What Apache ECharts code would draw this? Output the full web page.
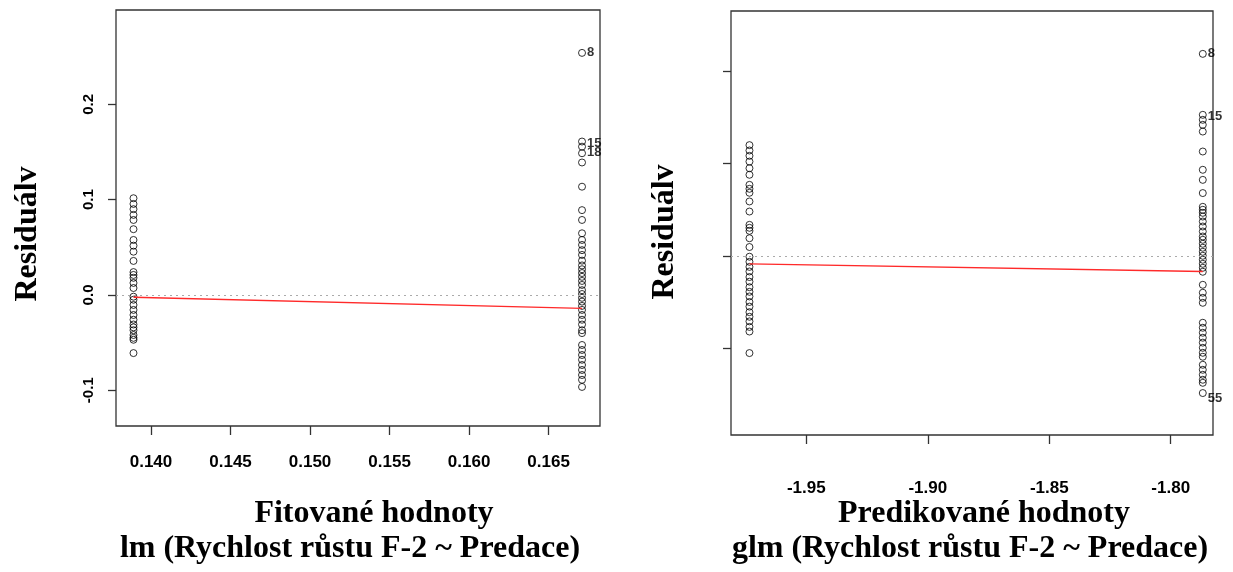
<!DOCTYPE html>
<html>
<head>
<meta charset="utf-8">
<script src="https://cdn.jsdelivr.net/npm/echarts@6/dist/echarts.min.js"></script>
<style>
  html, body { margin: 0; padding: 0; background: #fff; }
  #chart { width: 1233px; height: 572px; }
</style>
</head>
<body>
<div id="chart"></div>
<script>
// lm: fitted values of the two groups and their residuals
const lmFitted = [0.1389, 0.1671];
const lmResLeft = [0.1015, 0.0955, 0.090, 0.084, 0.0787, 0.069, 0.0577, 0.0517, 0.0454, 0.0357,
  0.024, 0.021, 0.018, 0.0126, 0.0073, -0.0018, -0.005, -0.0105, -0.0157, -0.021, -0.026,
  -0.031, -0.034, -0.037, -0.042, -0.045, -0.047, -0.061];
const lmResRight = [0.254, 0.161, 0.1556, 0.1487, 0.139, 0.1136, 0.089, 0.0787, 0.0647, 0.0577,
  0.0525, 0.047, 0.042, 0.036, 0.031, 0.027, 0.023, 0.019, 0.0147, 0.0105, 0.005, 0.001,
  -0.003, -0.007, -0.0115, -0.0157, -0.021, -0.026, -0.031, -0.037, -0.040, -0.0525, -0.0577,
  -0.063, -0.068, -0.0735, -0.0787, -0.084, -0.089, -0.0965];
const lmLabels = { 0: '8', 1: '15', 2: '18' };
const lmSmooth = [[0.1389, -0.0024], [0.1671, -0.014]];
const lmTicksX = [0.140, 0.145, 0.150, 0.155, 0.160, 0.165];
const lmTicksY = [-0.1, 0.0, 0.1, 0.2];

// glm: predicted values and residuals
const glmFitted = [-1.9734, -1.7868];
const glmResLeft = [1.198, 1.14, 1.082, 1.02, 0.948, 0.877, 0.768, 0.725, 0.682, 0.588, 0.479,
  0.335, 0.303, 0.27, 0.19, 0.095, -0.01, -0.065, -0.12, -0.17, -0.23, -0.28, -0.34, -0.39,
  -0.44, -0.5, -0.55, -0.61, -0.66, -0.71, -0.77, -0.82, -1.053];
const glmResRight = [2.186, 1.526, 1.472, 1.418, 1.345, 1.129, 0.931, 0.822, 0.679, 0.53, 0.498,
  0.465, 0.425, 0.371, 0.317, 0.263, 0.209, 0.173, 0.13, 0.087, 0.043, 0.0, -0.043, -0.087,
  -0.13, -0.173, -0.314, -0.4, -0.455, -0.509, -0.725, -0.779, -0.833, -0.887, -0.94, -0.996,
  -1.05, -1.093, -1.18, -1.234, -1.288, -1.342, -1.375, -1.486];
const glmLabels = { 0: '8', 1: '15', 43: '55' };
const glmSmooth = [[-1.9734, -0.087], [-1.7868, -0.170]];
const glmTicksX = [-1.95, -1.90, -1.85, -1.80];
const glmTicksY = [-1, 0, 1, 2];

const serif = '"Liberation Serif", "Times New Roman", serif';
const sans = '"Liberation Sans", Arial, sans-serif';

function column(x, values, labels, offsets) {
  return values.map((v, i) => {
    const item = { value: [x, v] };
    if (labels && labels[i] !== undefined) {
      item.label = {
        show: true, formatter: labels[i], position: 'right', distance: 1,
        offset: (offsets && offsets[i]) || [0, 0],
        color: '#000', fontFamily: sans, fontWeight: 'bold', fontSize: 13
      };
    }
    return item;
  });
}

function pointSeries(xi, yi, data) {
  return {
    type: 'scatter', xAxisIndex: xi, yAxisIndex: yi, data: data,
    symbol: 'circle', symbolSize: 7, silent: true,
    itemStyle: { color: 'rgba(255,255,255,0)', borderColor: '#000', borderWidth: 1 },
    z: 3
  };
}

function xAxisDef(gi, min, max, ticks, digits, margin) {
  return {
    type: 'value', gridIndex: gi, min: min, max: max, position: 'bottom',
    splitLine: { show: false },
    axisLine: { show: false, onZero: false },
    axisTick: { show: true, length: 9, customValues: ticks, lineStyle: { color: '#333', width: 1.3 } },
    axisLabel: {
      customValues: ticks, margin: margin, color: '#000', fontFamily: sans, fontSize: 17,
      fontWeight: 'bold', formatter: v => v.toFixed(digits)
    }
  };
}

function yAxisDef(gi, min, max, ticks, showLabel) {
  return {
    type: 'value', gridIndex: gi, min: min, max: max, position: 'left',
    splitLine: { show: false },
    axisLine: { show: false, onZero: false },
    axisTick: { show: true, length: 8, customValues: ticks, lineStyle: { color: '#333', width: 1.3 } },
    axisLabel: {
      show: showLabel, customValues: ticks, rotate: 90, margin: 20, color: '#000',
      fontFamily: sans, fontSize: 15, fontWeight: 'bold', formatter: v => v.toFixed(1)
    }
  };
}

const zeroLine = {
  silent: true, symbol: 'none', label: { show: false },
  lineStyle: { color: '#aaa', type: [2, 4], width: 1 },
  data: [{ yAxis: 0 }]
};

const option = {
  animation: false,
  backgroundColor: '#fff',
  grid: [
    { left: 116, top: 10, width: 484, height: 416, show: true, borderColor: '#333', borderWidth: 1.3,
      containLabel: false, outerBoundsMode: 'none' },
    { left: 731, top: 11, width: 482, height: 424, show: true, borderColor: '#333', borderWidth: 1.3,
      containLabel: false, outerBoundsMode: 'none' }
  ],
  xAxis: [
    xAxisDef(0, 0.1378, 0.16823, lmTicksX, 3, 28),
    xAxisDef(1, -1.981, -1.7826, glmTicksX, 2, 45)
  ],
  yAxis: [
    yAxisDef(0, -0.1375, 0.299, lmTicksY, true),
    yAxisDef(1, -1.94, 2.65, glmTicksY, false)
  ],
  series: [
    Object.assign(pointSeries(0, 0, column(lmFitted[0], lmResLeft)), { markLine: zeroLine }),
    pointSeries(0, 0, column(lmFitted[1], lmResRight, lmLabels, { 1: [0, 2], 2: [0, 6] })),
    { type: 'line', xAxisIndex: 0, yAxisIndex: 0, data: lmSmooth, symbol: 'none', silent: true,
      lineStyle: { color: '#ff2a2a', width: 1.3 }, z: 4 },
    Object.assign(pointSeries(1, 1, column(glmFitted[0], glmResLeft)), { markLine: zeroLine }),
    pointSeries(1, 1, column(glmFitted[1], glmResRight, glmLabels, { 1: [0, 2], 43: [0, 5] })),
    { type: 'line', xAxisIndex: 1, yAxisIndex: 1, data: glmSmooth, symbol: 'none', silent: true,
      lineStyle: { color: '#ff2a2a', width: 1.3 }, z: 4 }
  ],
  graphic: [
    { type: 'text', x: 374, y: 514, style: { text: 'Fitované hodnoty', font: 'bold 32px ' + serif,
      fill: '#000', align: 'center', verticalAlign: 'middle' } },
    { type: 'text', x: 350, y: 549, style: { text: 'lm (Rychlost růstu F-2 ~ Predace)', font: 'bold 32px ' + serif,
      fill: '#000', align: 'center', verticalAlign: 'middle' } },
    { type: 'text', x: 984, y: 514, style: { text: 'Predikované hodnoty', font: 'bold 32px ' + serif,
      fill: '#000', align: 'center', verticalAlign: 'middle' } },
    { type: 'text', x: 970, y: 549, style: { text: 'glm (Rychlost růstu F-2 ~ Predace)', font: 'bold 32px ' + serif,
      fill: '#000', align: 'center', verticalAlign: 'middle' } },
    { type: 'text', x: 28, y: 234, rotation: Math.PI / 2, style: { text: 'Residuálv', font: 'bold 32px ' + serif,
      fill: '#000', align: 'center', verticalAlign: 'middle' } },
    { type: 'text', x: 665, y: 232, rotation: Math.PI / 2, style: { text: 'Residuálv', font: 'bold 32px ' + serif,
      fill: '#000', align: 'center', verticalAlign: 'middle' } }
  ]
};

const myChart = echarts.init(document.getElementById('chart'));
myChart.setOption(option);
</script>
</body>
</html>
